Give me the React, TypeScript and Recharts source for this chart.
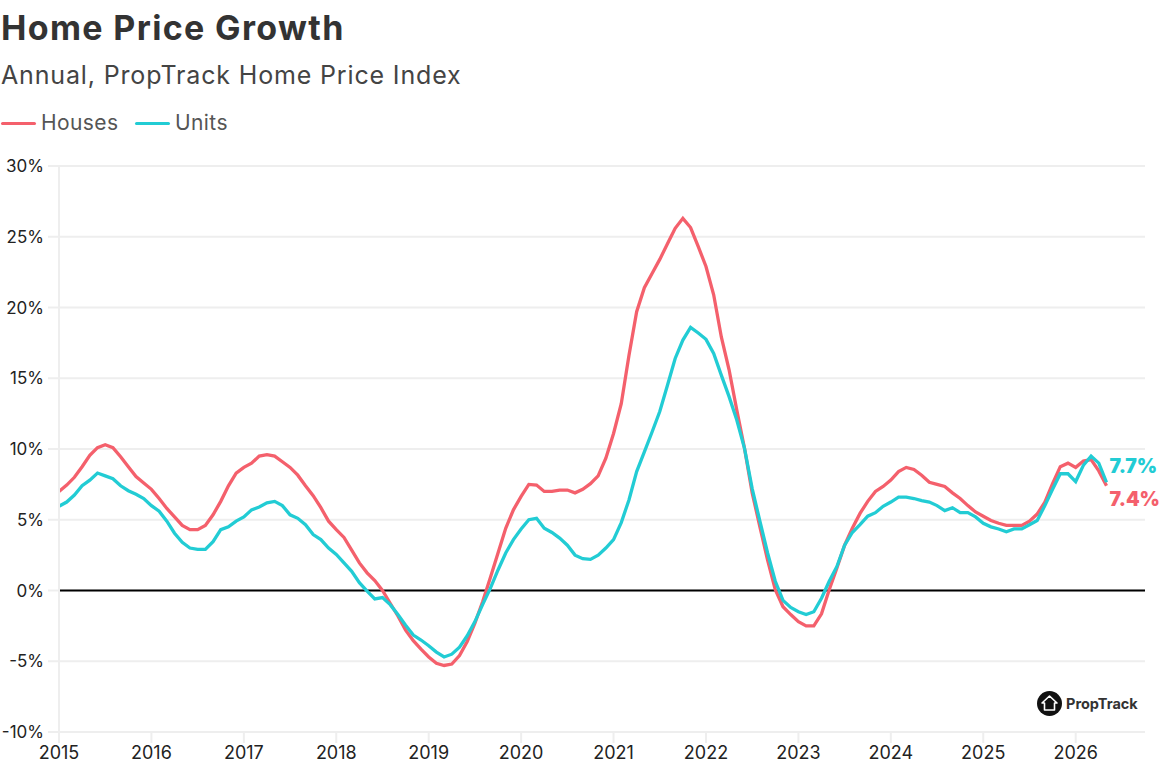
import { LineChart, Line, XAxis, YAxis, CartesianGrid, ReferenceLine } from "recharts";

const FONT = "Inter, 'Noto Sans', sans-serif";
const RED = "#f4606c";
const TEAL = "#22ccd4";

// monthly values, Jan 2015 to May 2026
const houses = [
  7.0, 7.45, 8.0, 8.75, 9.55, 10.1, 10.3, 10.1, 9.45, 8.75,
  8.05, 7.6, 7.15, 6.5, 5.8, 5.2, 4.6, 4.3, 4.3, 4.6,
  5.35, 6.3, 7.4, 8.3, 8.7, 9.0, 9.5, 9.6, 9.5, 9.1,
  8.7, 8.15, 7.4, 6.7, 5.85, 4.9, 4.3, 3.75, 2.85, 1.95,
  1.25, 0.7, 0.0, -0.9, -1.8, -2.8, -3.55, -4.15, -4.7, -5.15,
  -5.3, -5.2, -4.6, -3.6, -2.3, -0.8, 0.9, 2.65, 4.4, 5.7,
  6.65, 7.5, 7.45, 7.0, 7.0, 7.1, 7.1, 6.9, 7.15, 7.55,
  8.1, 9.35, 11.1, 13.2, 16.6, 19.7, 21.4, 22.4, 23.4, 24.5,
  25.6, 26.3, 25.65, 24.3, 22.9, 20.9, 17.9, 15.6, 12.75, 10.05,
  6.9, 4.5, 2.15, 0.05, -1.15, -1.7, -2.2, -2.5, -2.5, -1.65,
  0.05, 1.6, 3.2, 4.4, 5.45, 6.3, 7.0, 7.35, 7.8, 8.4,
  8.7, 8.55, 8.15, 7.65, 7.5, 7.35, 6.9, 6.5, 6.0, 5.55,
  5.25, 4.95, 4.75, 4.6, 4.6, 4.6, 4.9, 5.4, 6.25, 7.55,
  8.75, 9.0, 8.7, 9.15, 9.25, 8.45, 7.4,
];

const units = [
  5.95, 6.25, 6.75, 7.4, 7.8, 8.3, 8.1, 7.9, 7.4, 7.05,
  6.8, 6.5, 6.0, 5.6, 4.9, 4.05, 3.4, 3.0, 2.9, 2.9,
  3.45, 4.3, 4.5, 4.9, 5.2, 5.7, 5.9, 6.2, 6.3, 6.0,
  5.35, 5.1, 4.65, 3.95, 3.6, 3.0, 2.55, 1.95, 1.35, 0.55,
  -0.05, -0.6, -0.5, -1.0, -1.7, -2.45, -3.15, -3.5, -3.9, -4.35,
  -4.7, -4.5, -4.0, -3.2, -2.2, -1.0, 0.15, 1.45, 2.65, 3.6,
  4.35, 5.0, 5.1, 4.4, 4.1, 3.7, 3.2, 2.5, 2.25, 2.2,
  2.5, 3.0, 3.6, 4.8, 6.4, 8.4, 9.8, 11.2, 12.65, 14.5,
  16.4, 17.7, 18.6, 18.2, 17.75, 16.75, 15.2, 13.7, 12.05, 10.05,
  7.2, 4.9, 2.65, 0.65, -0.7, -1.2, -1.5, -1.7, -1.5, -0.55,
  0.65, 1.7, 3.2, 4.1, 4.65, 5.25, 5.5, 5.95, 6.25, 6.6,
  6.6, 6.5, 6.35, 6.25, 6.0, 5.65, 5.85, 5.5, 5.5, 5.2,
  4.75, 4.5, 4.35, 4.15, 4.35, 4.35, 4.65, 4.95, 6.0, 7.15,
  8.25, 8.25, 7.7, 8.85, 9.5, 9.0, 7.65,
];

const yearTicks = [0, 12, 24, 36, 48, 60, 72, 84, 96, 108, 120, 132];
const valueTicks = [-10, -5, 0, 5, 10, 15, 20, 25, 30];

const data = houses.map((h, i) => ({ month: i, houses: h, units: units[i] }));
const lastIndex = houses.length - 1;

function endLabel(text: string, color: string, dy: number) {
  return (props: any) => {
    if (props.index !== lastIndex) return null;
    return (
      <text x={props.x + 3} y={props.y + dy} fill={color} fontFamily={FONT} fontSize={19.5} fontWeight={900}>
        {text}
      </text>
    );
  };
}

function LegendItem({ color, label, width }: { color: string; label: string; width: number }) {
  return (
    <span style={{ display: "inline-flex", alignItems: "center", width }}>
      <span style={{ display: "inline-block", width: 35, height: 3, background: color, borderRadius: 2, marginRight: 5 }} />
      {label}
    </span>
  );
}

export default function App() {
  return (
    <div style={{ position: "absolute", left: 0, top: 0, width: 1162, height: 782, background: "#fff", fontFamily: FONT, overflow: "hidden" }}>
      <div style={{ position: "absolute", left: 1, top: 8, fontSize: 34, fontWeight: 700, letterSpacing: 1.35, color: "#333", lineHeight: "40px", whiteSpace: "nowrap" }}>
        Home Price Growth
      </div>
      <div style={{ position: "absolute", left: 1, top: 60, fontSize: 25, letterSpacing: 0.85, color: "#444", lineHeight: "30px", whiteSpace: "nowrap" }}>
        Annual, PropTrack Home Price Index
      </div>
      <div style={{ position: "absolute", left: 1, top: 110, fontSize: 21, letterSpacing: 0.4, color: "#555", lineHeight: "26px", whiteSpace: "nowrap", display: "flex" }}>
        <LegendItem color={RED} label="Houses" width={134} />
        <LegendItem color={TEAL} label="Units" width={100} />
      </div>

      <LineChart width={1162} height={782} data={data} margin={{ top: 166, right: 17, bottom: 0, left: 0 }}>
        <CartesianGrid horizontal vertical={false} stroke="#eeeeee" strokeWidth={2} />
        <XAxis
          dataKey="month"
          type="number"
          domain={[0, 141]}
          ticks={yearTicks}
          tickFormatter={(v: number) => String(2015 + v / 12)}
          height={50}
          tickSize={11}
          tickMargin={3}
          stroke="#eeeeee"
          strokeWidth={2}
          tick={{ fill: "#222", fontSize: 18, fontFamily: FONT }}
        />
        <YAxis
          domain={[-10, 30]}
          ticks={valueTicks}
          tickFormatter={(v: number) => `${v}%`}
          width={59}
          tickSize={11}
          tickMargin={4}
          stroke="#eeeeee"
          strokeWidth={2}
          tick={{ fill: "#222", fontSize: 17, fontFamily: FONT }}
        />
        <ReferenceLine y={0} stroke="#000" strokeWidth={1.8} />
        <Line dataKey="houses" type="linear" stroke={RED} strokeWidth={3.3} dot={false} isAnimationActive={false} label={endLabel("7.4%", RED, 20)} />
        <Line dataKey="units" type="linear" stroke={TEAL} strokeWidth={3.3} dot={false} isAnimationActive={false} label={endLabel("7.7%", TEAL, -9)} />
      </LineChart>

      <div style={{ position: "absolute", left: 1037, top: 691, display: "flex", alignItems: "center", color: "#333", fontSize: 14.5, fontWeight: 700, whiteSpace: "nowrap" }}>
        <svg width={25} height={25} viewBox="0 0 25 25" style={{ marginRight: 4 }}>
          <circle cx={12.5} cy={12.5} r={12.5} fill="#111" />
          <path d="M12.5 5 L20 12 L17.5 12 L17.5 19 L7.5 19 L7.5 12 L5 12 Z" fill="none" stroke="#fff" strokeWidth={1.6} strokeLinejoin="round" />
        </svg>
        PropTrack
      </div>
    </div>
  );
}
